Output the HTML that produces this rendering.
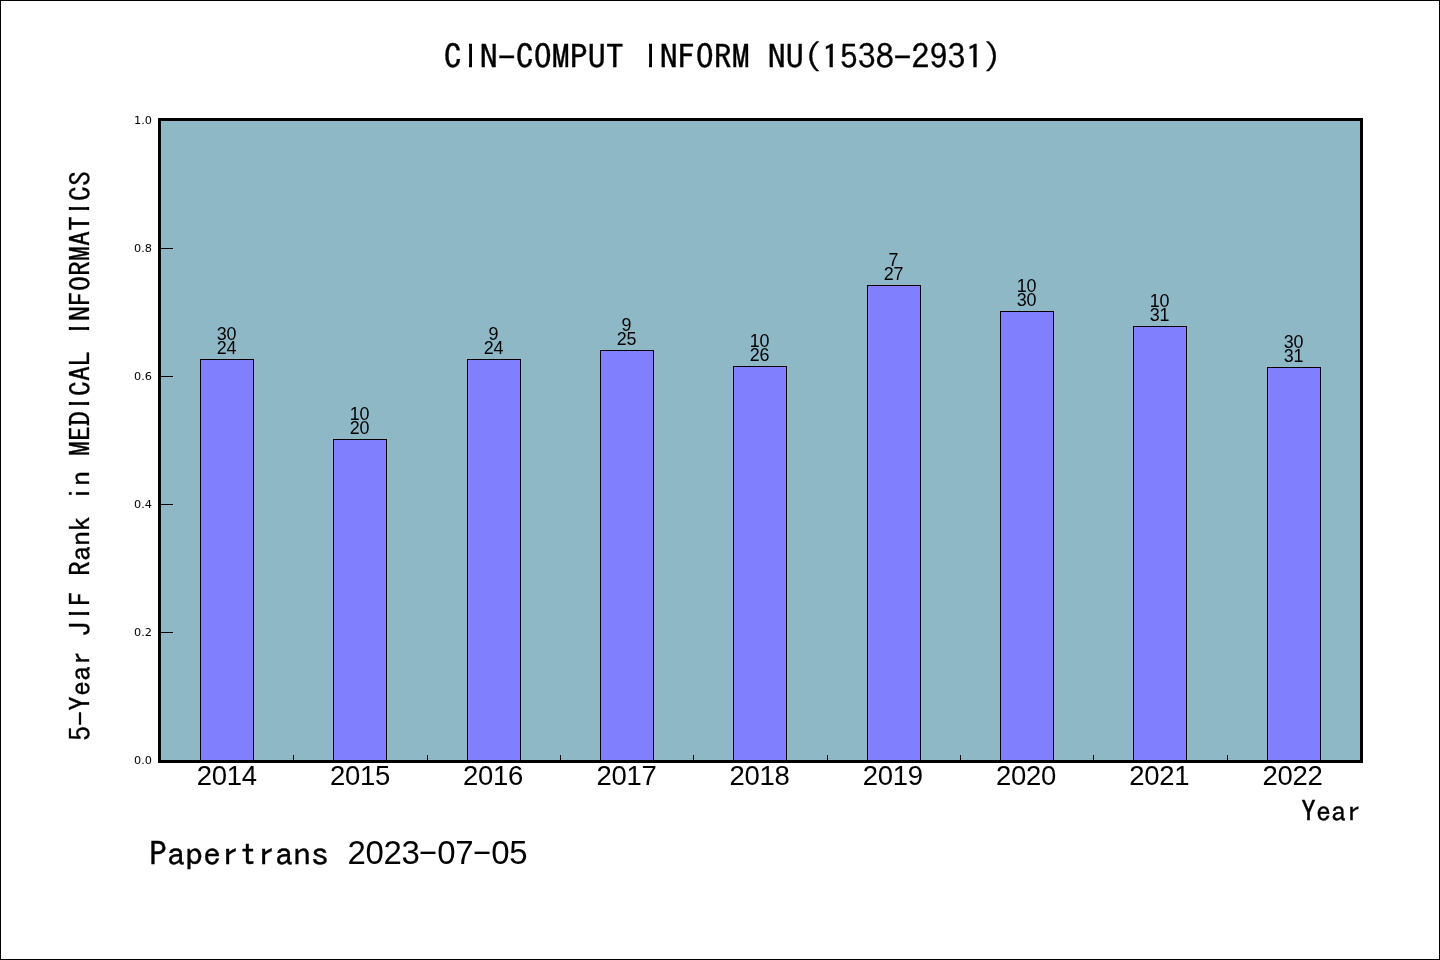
<!DOCTYPE html>
<html lang="en"><head><meta charset="utf-8"><title>CIN-COMPUT INFORM NU(1538-2931)</title>
<style>
html,body{margin:0;padding:0;background:#fff;}
body{width:1440px;height:960px;position:relative;overflow:hidden;color:#000;}
.fig{position:absolute;left:0;top:0;width:1438px;height:958px;border:1px solid #000;background:#fff;}
.hei{font-family:"IPAGothic","Liberation Mono",monospace;white-space:pre;position:absolute;line-height:1;-webkit-text-stroke:0.3px #000;}
.dv{font-family:"DejaVu Sans","Liberation Sans",sans-serif;font-size:11.3px;position:absolute;line-height:1;white-space:pre;text-align:right;width:40px;}
.plot{position:absolute;left:158px;top:118px;width:1199px;height:639px;border:3px solid #000;background:#8fb8c7;}
.bar{position:absolute;background:#8080ff;border:1px solid #000;border-bottom:none;box-sizing:border-box;}
.tk{position:absolute;background:#000;}
.m{position:absolute;background:#fff;}
.num{font-family:"Liberation Sans","DejaVu Sans",sans-serif;white-space:pre;position:absolute;line-height:1;text-align:center;width:80px;}
.n30{font-size:27.47px;letter-spacing:-0.28px;}
.n20{font-size:17.9px;}
.n36{font-size:32.97px;letter-spacing:-0.4px;text-align:left;width:auto;}
.n36 .hy{display:inline-block;width:18px;text-align:center;letter-spacing:0;font-family:"IPAGothic","Liberation Mono",monospace;font-size:33.26px;line-height:0;transform:translateY(0.6px) scaleX(1.12);}
.t36{font-size:33.26px;transform:scaleX(1.0823);}
.t30{font-size:27.72px;transform:scaleX(1.0823);}
</style></head><body>
<div class="fig"></div>
<div class="hei t36" id="title" style="left:464.73px;top:40px;">CIN-COMPUT INFORM NU(1538-2931)</div>
<div class="plot"></div>

<div class="dv" style="left:112px;top:115px;">1.0</div>
<div class="dv" style="left:112px;top:243px;">0.8</div>
<div class="tk" style="left:161px;top:248px;width:12px;height:1px;"></div>
<div class="dv" style="left:112px;top:371px;">0.6</div>
<div class="tk" style="left:161px;top:376px;width:12px;height:1px;"></div>
<div class="dv" style="left:112px;top:499px;">0.4</div>
<div class="tk" style="left:161px;top:504px;width:12px;height:1px;"></div>
<div class="dv" style="left:112px;top:627px;">0.2</div>
<div class="tk" style="left:161px;top:632px;width:12px;height:1px;"></div>
<div class="dv" style="left:112px;top:755px;">0.0</div>
<div class="tk" style="left:293px;top:755px;width:1px;height:5px;"></div>
<div class="tk" style="left:427px;top:755px;width:1px;height:5px;"></div>
<div class="tk" style="left:560px;top:755px;width:1px;height:5px;"></div>
<div class="tk" style="left:693px;top:755px;width:1px;height:5px;"></div>
<div class="tk" style="left:827px;top:755px;width:1px;height:5px;"></div>
<div class="tk" style="left:960px;top:755px;width:1px;height:5px;"></div>
<div class="tk" style="left:1093px;top:755px;width:1px;height:5px;"></div>
<div class="tk" style="left:1227px;top:755px;width:1px;height:5px;"></div>
<div class="bar" style="left:200px;top:359px;width:54px;height:401px;"></div>
<div class="num n20" style="left:186.6px;top:326px;">30</div>
<div class="num n20" style="left:186.6px;top:340px;">24</div>
<div class="num n30" style="left:186.7px;top:762px;">2014</div>
<div class="bar" style="left:333px;top:439px;width:54px;height:321px;"></div>
<div class="num n20" style="left:319.6px;top:406px;">10</div>
<div class="num n20" style="left:319.6px;top:420px;">20</div>
<div class="num n30" style="left:319.9px;top:762px;">2015</div>
<div class="bar" style="left:467px;top:359px;width:54px;height:401px;"></div>
<div class="num n20" style="left:453.6px;top:326px;">9</div>
<div class="num n20" style="left:453.6px;top:340px;">24</div>
<div class="num n30" style="left:453.1px;top:762px;">2016</div>
<div class="bar" style="left:600px;top:350px;width:54px;height:410px;"></div>
<div class="num n20" style="left:586.6px;top:317px;">9</div>
<div class="num n20" style="left:586.6px;top:331px;">25</div>
<div class="num n30" style="left:586.4px;top:762px;">2017</div>
<div class="bar" style="left:733px;top:366px;width:54px;height:394px;"></div>
<div class="num n20" style="left:719.6px;top:333px;">10</div>
<div class="num n20" style="left:719.6px;top:347px;">26</div>
<div class="num n30" style="left:719.6px;top:762px;">2018</div>
<div class="bar" style="left:867px;top:285px;width:54px;height:475px;"></div>
<div class="num n20" style="left:853.6px;top:252px;">7</div>
<div class="num n20" style="left:853.6px;top:266px;">27</div>
<div class="num n30" style="left:852.8px;top:762px;">2019</div>
<div class="bar" style="left:1000px;top:311px;width:54px;height:449px;"></div>
<div class="num n20" style="left:986.6px;top:278px;">10</div>
<div class="num n20" style="left:986.6px;top:292px;">30</div>
<div class="num n30" style="left:986.1px;top:762px;">2020</div>
<div class="bar" style="left:1133px;top:326px;width:54px;height:434px;"></div>
<div class="num n20" style="left:1119.6px;top:293px;">10</div>
<div class="num n20" style="left:1119.6px;top:307px;">31</div>
<div class="num n30" style="left:1119.3px;top:762px;">2021</div>
<div class="bar" style="left:1267px;top:367px;width:54px;height:393px;"></div>
<div class="num n20" style="left:1253.6px;top:334px;">30</div>
<div class="num n20" style="left:1253.6px;top:348px;">31</div>
<div class="num n30" style="left:1252.5px;top:762px;">2022</div>
<div class="hei t30" id="xlabel" style="transform-origin:100% 50%;left:1240.8px;top:797px;width:120px;text-align:right;">Year</div>
<div class="hei t36" id="foot" style="transform-origin:0 50%;left:149px;top:837px;">Papertrans</div>
<div class="num n36" id="date" style="left:347.6px;top:837px;">2023<span class="hy">-</span>07<span class="hy">-</span>05</div>
<div class="hei t30" id="ylabel" style="left:65.6px;top:741px;transform-origin:0 0;transform:rotate(-90deg) scaleX(1.0823);">5-Year JIF Rank in MEDICAL INFORMATICS</div>
<i class="m" style="left:464px;top:42px;width:5px;height:27px;"></i><i class="m" style="left:472.25px;top:42px;width:4.75px;height:27px;"></i>
<i class="m" style="left:644px;top:42px;width:5px;height:27px;"></i><i class="m" style="left:652.25px;top:42px;width:4.75px;height:27px;"></i>
<i class="m" style="left:67px;top:615px;width:24px;height:4px;"></i><i class="m" style="left:67px;top:608px;width:24px;height:4px;"></i>
<i class="m" style="left:67px;top:405px;width:24px;height:4px;"></i><i class="m" style="left:67px;top:398px;width:24px;height:4px;"></i>
<i class="m" style="left:67px;top:330px;width:24px;height:4px;"></i><i class="m" style="left:67px;top:323px;width:24px;height:4px;"></i>
<i class="m" style="left:67px;top:210px;width:24px;height:4px;"></i><i class="m" style="left:67px;top:203px;width:24px;height:4px;"></i>
</body></html>
